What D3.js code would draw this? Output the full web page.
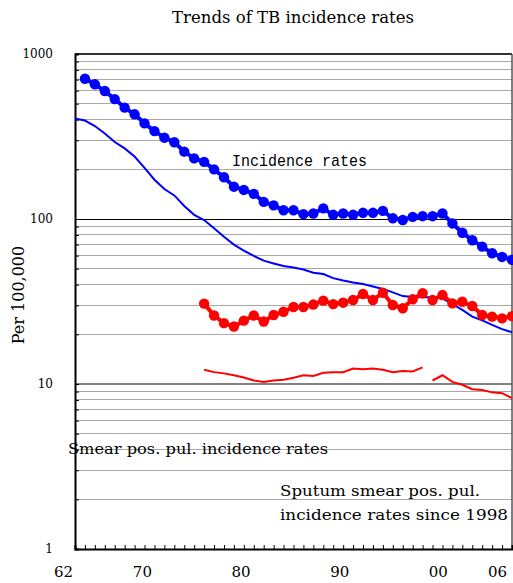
<!DOCTYPE html>
<html><head><meta charset="utf-8">
<script src="https://cdn.jsdelivr.net/npm/d3@7"></script>
<style>
html,body{margin:0;padding:0;background:#fff;}
svg{display:block;}
</style></head>
<body>
<script>
// ---------------- DATA ----------------
const yearsAll = d3.range(1962, 2007);              // 1962..2006
const yTickLabels = [1, 10, 100, 1000];
const xTickLabelYears = [1962, 1970, 1980, 1990, 2000, 2006];
const xTickLabelText = ["62", "70", "80", "90", "00", "06"];

// thick blue (dots), two segments
const incYearsA = d3.range(1963, 1998);
const incValsA = [708, 655, 597, 533, 473, 431, 380, 341, 311, 292, 256, 233, 222, 200, 179, 157, 150, 142, 127, 121,
                  113, 113, 107, 108, 116, 106, 108, 106, 109, 109, 112, 101, 98.6, 103, 104];
const incYearsB = d3.range(1998, 2007);
const incValsB = [104, 108, 94, 82.6, 74.3, 68, 62, 58.9, 56.5];

// thin blue line
const thinBlueYears = d3.range(1962, 2007);
const thinBlueVals = [407, 395, 366, 330, 293, 268, 239, 204, 173, 152, 139, 120, 106, 98.6, 88, 78, 70, 64.4, 59.7, 55.9,
                      53.8, 51.9, 50.8, 49.4, 47.3, 46.4, 43.8, 42.4, 41.2, 40.4, 39.0, 37.7, 35.9, 34.1, 33.7, 33.5,
                      33.5, 33.0, 30.5, 28.1, 25.6, 24.3, 22.8, 21.5, 20.6];

// thick red (dots), two segments
const redYearsA = d3.range(1975, 1998);
const redValsA = [30.7, 26.0, 23.4, 22.3, 24.2, 26.0, 23.9, 26.2, 27.4, 29.3, 29.3, 30.3, 32.0, 30.5, 31.1, 32.3,
                  35.1, 32.3, 35.7, 30.1, 28.8, 32.6, 35.5];
const redYearsB = d3.range(1998, 2007);
const redValsB = [32.3, 34.6, 30.8, 31.5, 29.7, 26.2, 25.6, 25.0, 25.8];

// thin red line, two segments
const thinRedYearsA = d3.range(1975, 1998);
const thinRedValsA = [12.2, 11.8, 11.6, 11.3, 10.95, 10.5, 10.3, 10.5, 10.6, 10.9, 11.3, 11.2, 11.7, 11.8, 11.8, 12.4,
                      12.3, 12.4, 12.2, 11.8, 12.0, 11.9, 12.6];
const thinRedYearsB = d3.range(1998, 2007);
const thinRedValsB = [10.5, 11.3, 10.3, 9.9, 9.3, 9.2, 8.9, 8.8, 8.2];

// ---------------- CHART ----------------
const W = 513, H = 583;
const L = 75, R = 512, T = 54, B = 549;
const svg = d3.select("body").append("svg").attr("width", W).attr("height", H);

const x = d3.scaleLinear().domain([1962, 2006]).range([L, R]);
const xLab = d3.scaleLinear().domain([1962, 2006]).range([63, 497]);
const y = d3.scaleLog().domain([1, 1000]).range([B, T]);

const serif = "'DejaVu Serif', 'Liberation Serif', serif";

// gridlines
const minorVals = [];
[1, 10, 100].forEach(d => { for (let k = 2; k <= 9; k++) minorVals.push(k * d); });
svg.append("g").selectAll("line").data(minorVals).join("line")
  .attr("x1", L).attr("x2", R).attr("y1", d => y(d)).attr("y2", d => y(d))
  .attr("stroke", "#a8a8a8").attr("stroke-width", 1).attr("shape-rendering", "crispEdges");
svg.append("line").attr("x1", L).attr("x2", R).attr("y1", y(100)).attr("y2", y(100))
  .attr("stroke", "#000").attr("stroke-width", 1).attr("shape-rendering", "crispEdges");
svg.append("line").attr("x1", L).attr("x2", R).attr("y1", y(10)).attr("y2", y(10))
  .attr("stroke", "#808080").attr("stroke-width", 2).attr("shape-rendering", "crispEdges");

// frame top/right
svg.append("line").attr("x1", L).attr("x2", R).attr("y1", T).attr("y2", T)
  .attr("stroke", "#333").attr("stroke-width", 2);
svg.append("line").attr("x1", R).attr("x2", R).attr("y1", T).attr("y2", B)
  .attr("stroke", "#555").attr("stroke-width", 1.5);

// left axis with inward minor ticks
const allYTicks = [1].concat(minorVals, [10, 100, 1000]);
const yAxisG = svg.append("g").attr("transform", `translate(${L},0)`)
  .call(d3.axisLeft(y).tickValues(allYTicks).tickSize(-4).tickFormat(""));
yAxisG.select(".domain").attr("stroke", "#000").attr("stroke-width", 2);
yAxisG.selectAll(".tick line").attr("stroke", "#000");

const yLabG = svg.append("g").attr("transform", `translate(${L},0)`)
  .call(d3.axisLeft(y).tickValues(yTickLabels).tickSize(0).tickPadding(22).tickFormat(d3.format("d")));
yLabG.select(".domain").remove();
yLabG.selectAll("text").attr("font-family", serif).attr("font-size", 12).attr("fill", "#000");

// bottom axis
const xAxisG = svg.append("g").attr("transform", `translate(0,${B})`)
  .call(d3.axisBottom(x).tickValues(d3.range(1963, 2006)).tickSize(-4).tickFormat(""));
xAxisG.select(".domain").attr("stroke", "#000").attr("stroke-width", 2);
xAxisG.selectAll(".tick line").attr("stroke", "#000");

const xLabG = svg.append("g").attr("transform", `translate(0,${B})`)
  .call(d3.axisBottom(xLab).tickValues(xTickLabelYears).tickSize(0)
        .tickFormat((d, i) => xTickLabelText[i]));
xLabG.select(".domain").remove();
xLabG.selectAll("text").attr("font-family", serif).attr("font-size", 15).attr("fill", "#000")
  .attr("dy", null).attr("y", 28);

// lines
const line = d3.line().x(d => x(d[0])).y(d => y(d[1]));
const zip = (a, b) => a.map((v, i) => [v, b[i]]);

svg.append("path").datum(zip(thinBlueYears, thinBlueVals)).attr("d", line)
  .attr("fill", "none").attr("stroke", "#0000ff").attr("stroke-width", 2);
[[thinRedYearsA, thinRedValsA], [thinRedYearsB, thinRedValsB]].forEach(([ys, vs]) => {
  svg.append("path").datum(zip(ys, vs)).attr("d", line)
    .attr("fill", "none").attr("stroke", "#ff0000").attr("stroke-width", 2);
});

function dotted(ys, vs, color) {
  const data = zip(ys, vs);
  svg.append("path").datum(data).attr("d", line)
    .attr("fill", "none").attr("stroke", color).attr("stroke-width", 4).attr("stroke-linejoin", "round");
  svg.append("g").selectAll("circle").data(data).join("circle")
    .attr("cx", d => x(d[0])).attr("cy", d => y(d[1])).attr("r", 5.2).attr("fill", color);
}
dotted(incYearsA, incValsA, "#0000ff");
dotted(incYearsB, incValsB, "#0000ff");
dotted(redYearsA, redValsA, "#ff0000");
dotted(redYearsB, redValsB, "#ff0000");

// texts
svg.append("text").attr("x", 172).attr("y", 23).attr("font-family", serif).attr("font-size", 16)
  .attr("textLength", 242).attr("lengthAdjust", "spacingAndGlyphs").text("Trends of TB incidence rates");

svg.append("text").attr("transform", "translate(24,295) rotate(-90)").attr("text-anchor", "middle")
  .attr("font-family", serif).attr("font-size", 16).text("Per 100,000");

svg.append("text").attr("x", 232).attr("y", 166).attr("font-family", "'Liberation Mono', 'DejaVu Sans Mono', monospace")
  .attr("font-size", 17).attr("textLength", 135).attr("lengthAdjust", "spacingAndGlyphs").text("Incidence rates");

svg.append("text").attr("x", 68).attr("y", 454).attr("font-family", serif).attr("font-size", 15)
  .attr("textLength", 260).attr("lengthAdjust", "spacingAndGlyphs").text("Smear pos. pul. incidence rates");
svg.append("text").attr("x", 280).attr("y", 496).attr("font-family", serif).attr("font-size", 15)
  .attr("textLength", 200).attr("lengthAdjust", "spacingAndGlyphs").text("Sputum smear pos. pul.");
svg.append("text").attr("x", 280).attr("y", 520).attr("font-family", serif).attr("font-size", 15)
  .attr("textLength", 228).attr("lengthAdjust", "spacingAndGlyphs").text("incidence rates since 1998");
</script>
</body></html>
